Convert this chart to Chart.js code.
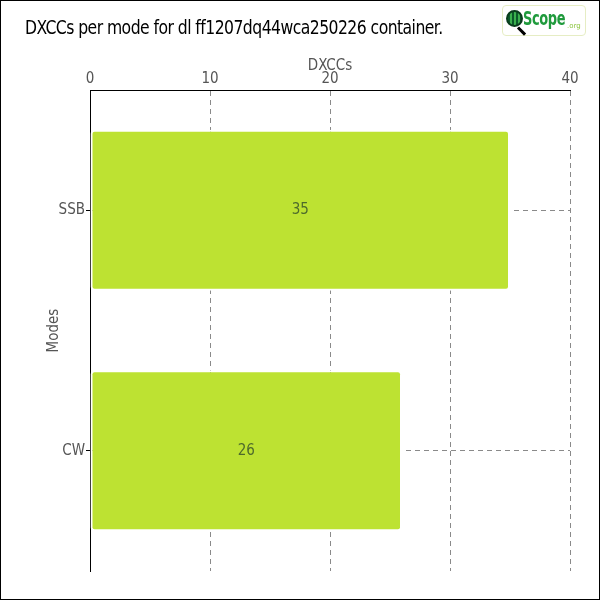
<!DOCTYPE html>
<html>
<head>
<meta charset="utf-8">
<script src="https://cdn.jsdelivr.net/npm/chart.js@4"></script>
<style>
  html, body { margin: 0; padding: 0; background: #fff; }
  #wrap { position: relative; width: 600px; height: 600px; box-sizing: border-box; border: 1px solid #000; }
  #chart { position: absolute; left: 0; top: 0; }
  #title {
    position: absolute; left: 24px; top: 15px;
    font-family: "DejaVu Sans Condensed", sans-serif;
    font-size: 19px; color: #000; white-space: nowrap; letter-spacing: -0.6px;
    transform: scaleX(0.915); transform-origin: left top;
  }
  #logo {
    position: absolute; left: 501px; top: 4px; width: 84px; height: 31px;
    box-sizing: border-box; border: 1px solid #e6edc4; border-radius: 4px; background: #fff;
  }
  #logo .lens {
    position: absolute; left: 3px; top: 4px; width: 13px; height: 13px; border-radius: 50%;
    background: repeating-linear-gradient(90deg, #0c5a2a 0 2px, #3bb04e 2px 4px);
    border: 2px solid #0a3d1c;
  }
  #logo .handle {
    position: absolute; left: 15px; top: 20px; width: 10px; height: 3px; background: #000;
    transform: rotate(45deg); transform-origin: left center;
  }
  #logo .word {
    position: absolute; left: 20px; top: 1px;
    font-family: "DejaVu Sans Condensed", sans-serif;
    font-weight: bold; font-size: 19px; color: #1f9a3c;
    transform: scaleX(0.76); transform-origin: left top; letter-spacing: -0.5px;
  }
  #logo .org {
    position: absolute; left: 64px; top: 16px;
    font-family: "DejaVu Sans", sans-serif; font-size: 7px; color: #8cc63f;
  }
</style>
</head>
<body>
<div id="wrap">
  <canvas id="chart" width="598" height="598"></canvas>
  <div id="title">DXCCs per mode for dl ff1207dq44wca250226 container.</div>
  <div id="logo"><div class="lens"></div><div class="handle"></div><span class="word">Scope</span><span class="org">.org</span></div>
</div>
<script>
// data
const modes = ["SSB", "CW"];
const dxccs = [35, 26];
const xTicks = [0, 10, 20, 30, 40];

const axisFont = { family: "'DejaVu Sans Condensed', sans-serif", size: 15 };
const axisColor = "#555";
const gridColor = "#8a8a8a";
const barColor = "#bde232";

// labels in the middle of each bar
const barLabels = {
  id: "barLabels",
  afterDatasetsDraw(chart) {
    const ctx = chart.ctx;
    const meta = chart.getDatasetMeta(0);
    ctx.save();
    ctx.fillStyle = "#4d6a2c";
    ctx.font = "15px 'DejaVu Sans Condensed', sans-serif";
    ctx.textAlign = "center";
    ctx.textBaseline = "middle";
    meta.data.forEach((bar, i) => {
      const cx = (bar.base + bar.x) / 2;
      ctx.fillText(String(dxccs[i]), cx, bar.y);
    });
    ctx.restore();
  }
};

new Chart(document.getElementById("chart"), {
  type: "bar",
  data: {
    labels: modes,
    datasets: [{
      label: "DXCCs",
      data: dxccs,
      backgroundColor: barColor,
      borderColor: "#ffffff",
      borderWidth: 2,
      borderSkipped: false,
      borderRadius: 4,
      categoryPercentage: 1,
      barPercentage: 0.67
    }]
  },
  options: {
    indexAxis: "y",
    responsive: false,
    animation: false,
    layout: { padding: { top: 0, right: 29, bottom: 28, left: 0 } },
    plugins: {
      legend: { display: false },
      tooltip: { enabled: false },
      title: { display: false }
    },
    scales: {
      x: {
        position: "top",
        min: 0,
        max: 40,
        afterFit(scale) { scale.height = 89; },
        afterBuildTicks(scale) { scale.ticks = xTicks.map(v => ({ value: v })); },
        ticks: { color: axisColor, font: axisFont, padding: 2 },
        title: { display: true, text: "DXCCs", color: axisColor, font: axisFont, padding: { top: 56, bottom: 0 } },
        grid: { color: gridColor, lineWidth: 1, drawTicks: false, tickLength: 0 },
        border: { display: true, color: "#000", width: 1, dash: [5, 4] }
      },
      y: {
        position: "left",
        offset: true,
        afterFit(scale) { scale.width = 89; },
        ticks: { color: axisColor, font: axisFont, padding: 1 },
        title: { display: true, text: "Modes", color: axisColor, font: axisFont, padding: { top: 44, bottom: 0 } },
        grid: { offset: false, color: gridColor, lineWidth: 1, drawTicks: true, tickLength: 4, tickColor: "#000", tickBorderDash: [] },
        border: { display: true, color: "#000", width: 1, dash: [5, 4] }
      }
    }
  },
  plugins: [barLabels]
});
</script>
</body>
</html>
